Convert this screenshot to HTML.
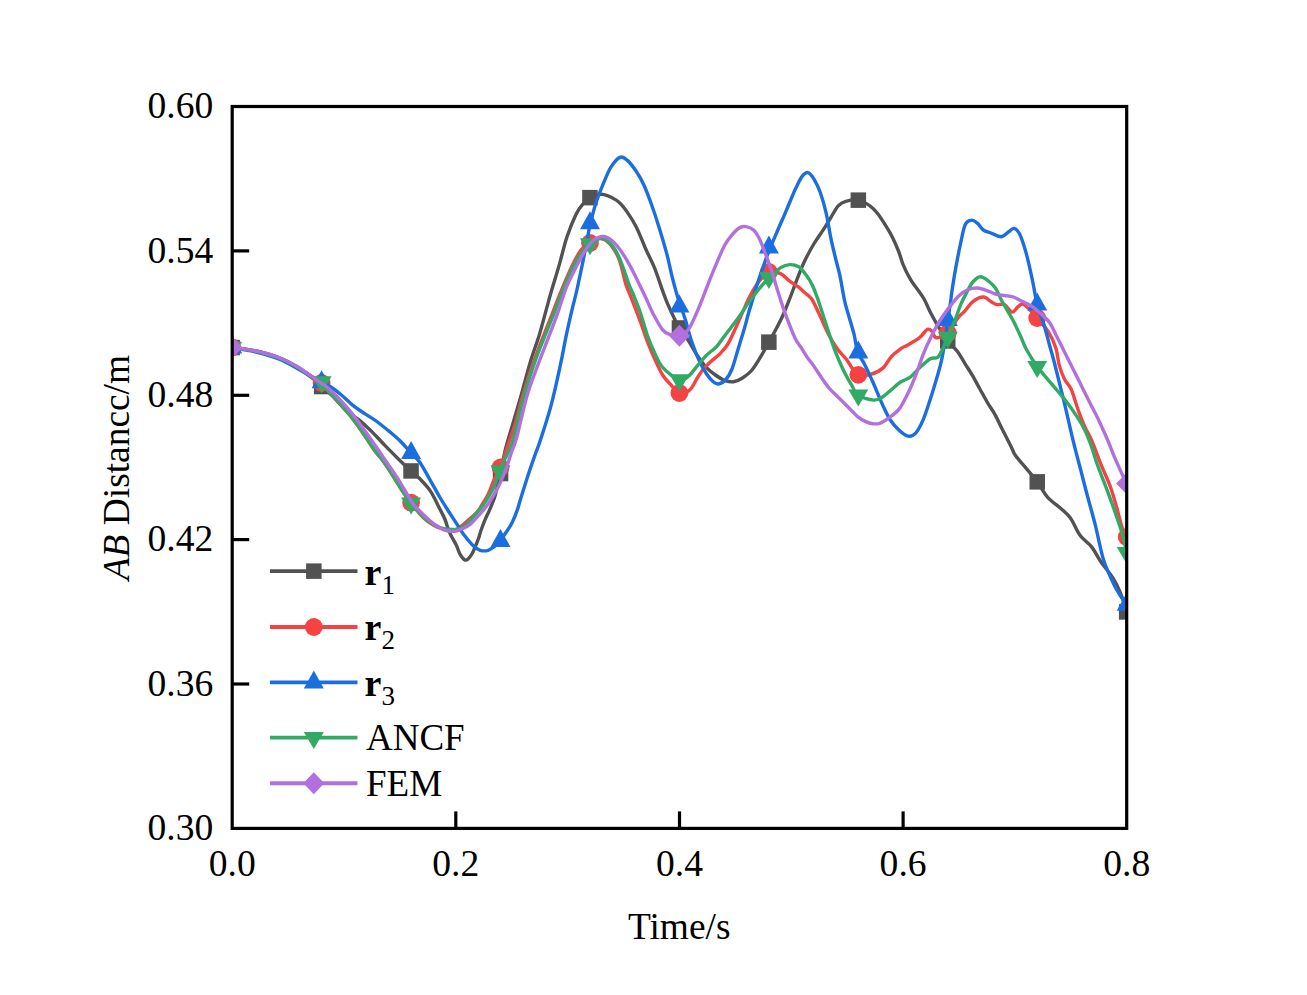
<!DOCTYPE html>
<html><head><meta charset="utf-8"><title>AB Distance vs Time</title>
<style>
html,body{margin:0;padding:0;background:#fff;}
body{width:1307px;height:995px;overflow:hidden;}
svg{display:block;}
text{font-family:"Liberation Serif",serif;fill:#000;}
</style></head><body>
<svg width="1307" height="995" viewBox="0 0 1307 995">
<rect x="0" y="0" width="1307" height="995" fill="#fff"/>
<defs><clipPath id="pa"><rect x="232.2" y="106.5" width="894.5" height="721.9"/></clipPath></defs>
<g clip-path="url(#pa)">
<path d="M232.2,347.5 C236.2,348.1 248.0,349.2 256.0,351.0 C264.0,352.8 273.0,355.2 280.0,358.0 C287.0,360.8 292.0,363.7 298.0,367.5 C304.0,371.3 312.1,377.8 316.0,381.0 C319.9,384.2 318.9,384.1 321.6,386.5 C324.3,388.9 327.8,391.4 332.0,395.5 C336.2,399.6 342.2,407.0 346.6,411.0 C351.1,415.0 354.7,416.4 358.7,419.6 C362.7,422.9 366.3,426.2 370.7,430.5 C375.1,434.8 379.7,440.1 385.1,445.6 C390.5,451.1 398.9,459.5 403.2,463.7 C407.5,467.9 408.3,468.5 411.1,471.0 C413.9,473.5 416.6,475.5 419.8,478.8 C423.0,482.1 426.9,485.8 430.3,490.9 C433.7,496.0 437.6,504.6 440.0,509.3 C442.4,514.0 443.2,515.1 444.8,519.0 C446.4,522.9 447.7,528.3 449.6,532.6 C451.5,536.9 454.4,541.1 456.1,544.7 C457.9,548.3 458.6,551.8 460.1,554.3 C461.6,556.8 463.5,559.2 464.9,559.9 C466.3,560.6 467.3,559.6 468.5,558.5 C469.7,557.4 471.0,555.6 472.2,553.5 C473.4,551.4 474.4,548.5 475.5,546.0 C476.6,543.5 477.6,541.0 478.6,538.2 C479.6,535.5 480.2,532.5 481.3,529.5 C482.4,526.5 483.6,523.2 484.9,520.1 C486.2,517.0 487.9,513.7 489.1,511.0 C490.3,508.3 491.1,506.4 492.1,503.8 C493.1,501.2 493.8,500.5 495.2,495.3 C496.6,490.1 498.7,480.5 500.5,472.5 C502.3,464.5 503.8,455.8 505.9,447.5 C508.0,439.2 510.6,431.7 513.1,423.0 C515.6,414.3 518.2,405.6 521.1,395.5 C524.0,385.4 527.2,372.4 530.2,362.4 C533.2,352.3 536.5,344.2 539.2,335.2 C542.0,326.1 544.7,315.4 546.7,308.1 C548.7,300.8 549.1,298.9 551.3,291.5 C553.4,284.1 557.0,272.8 559.6,263.6 C562.2,254.4 564.3,244.8 567.1,236.5 C569.9,228.2 573.6,219.3 576.2,213.9 C578.9,208.5 580.7,206.7 583.0,204.0 C585.3,201.3 587.1,199.3 590.0,197.7 C592.9,196.1 597.3,194.6 600.3,194.3 C603.3,194.0 604.8,194.6 607.8,195.8 C610.8,197.1 615.1,199.0 618.4,201.8 C621.7,204.6 624.4,208.1 627.4,212.4 C630.4,216.7 633.5,221.4 636.5,227.4 C639.5,233.4 642.5,241.7 645.5,248.5 C648.5,255.3 651.8,261.3 654.6,268.1 C657.4,274.9 660.0,283.6 662.1,289.3 C664.2,295.1 665.0,297.6 667.1,302.6 C669.2,307.6 672.7,315.0 674.7,319.2 C676.8,323.4 677.1,324.5 679.4,328.0 C681.6,331.5 685.2,335.7 688.2,340.3 C691.2,344.9 694.3,350.9 697.3,355.4 C700.3,359.9 703.3,364.1 706.3,367.4 C709.3,370.7 712.4,372.9 715.4,375.0 C718.4,377.1 721.4,379.2 724.4,380.3 C727.4,381.4 730.5,382.2 733.5,381.8 C736.5,381.4 739.5,379.9 742.5,378.0 C745.5,376.1 748.6,374.0 751.6,370.5 C754.6,367.0 757.7,361.6 760.6,356.9 C763.5,352.2 766.4,346.7 768.9,342.2 C771.4,337.7 773.3,334.4 775.7,329.8 C778.1,325.2 780.8,320.0 783.2,314.7 C785.6,309.4 787.6,304.1 790.0,298.0 C792.4,291.9 795.0,284.4 797.5,278.1 C800.0,271.8 802.3,265.9 805.1,260.1 C807.9,254.3 811.1,248.5 814.1,243.5 C817.1,238.5 820.4,234.2 823.2,229.9 C826.0,225.6 828.2,221.8 830.7,217.8 C833.2,213.8 835.7,208.6 838.2,205.8 C840.7,203.1 842.5,202.2 845.8,201.3 C849.1,200.4 853.8,199.4 857.8,200.2 C861.8,200.9 866.6,203.6 869.9,205.8 C873.2,208.0 874.6,209.8 877.4,213.3 C880.2,216.8 884.0,222.9 886.5,226.9 C889.0,230.9 890.5,233.4 892.5,237.4 C894.5,241.4 896.7,246.5 898.5,251.0 C900.3,255.5 901.1,259.8 903.1,264.6 C905.1,269.4 908.1,275.4 910.6,279.7 C913.1,284.0 915.8,286.9 918.1,290.2 C920.4,293.5 922.2,295.6 924.2,299.3 C926.2,303.0 928.0,307.7 930.2,312.1 C932.5,316.5 934.8,320.8 937.7,325.6 C940.6,330.4 944.5,336.7 947.8,341.0 C951.1,345.3 954.5,347.6 957.3,351.3 C960.1,355.0 962.3,359.3 964.8,363.3 C967.3,367.3 969.9,371.1 972.4,375.4 C974.9,379.7 977.4,384.5 979.9,389.0 C982.4,393.5 984.9,398.2 987.4,402.5 C989.9,406.8 992.5,410.1 995.0,414.6 C997.5,419.1 999.7,424.2 1002.5,429.7 C1005.3,435.2 1009.5,443.4 1011.6,447.7 C1013.7,452.0 1013.1,452.1 1015.3,455.3 C1017.5,458.5 1021.1,462.3 1024.8,466.7 C1028.5,471.1 1033.4,476.7 1037.2,481.8 C1041.0,486.9 1043.7,492.8 1047.7,497.3 C1051.7,501.8 1057.3,505.2 1061.1,508.7 C1064.9,512.2 1067.4,513.8 1070.6,518.3 C1073.8,522.8 1076.7,530.7 1080.2,535.5 C1083.7,540.3 1088.1,542.4 1091.6,546.9 C1095.1,551.4 1097.7,557.1 1101.2,562.2 C1104.7,567.3 1109.4,572.4 1112.6,577.5 C1115.8,582.6 1117.9,587.0 1120.3,592.7 C1122.7,598.5 1125.6,608.8 1126.7,612.0" fill="none" stroke="#525252" stroke-width="3.4" stroke-linejoin="round" stroke-linecap="round"/>
<rect x="224.4" y="339.8" width="15.5" height="15.5" fill="#525252"/>
<rect x="313.9" y="378.8" width="15.5" height="15.5" fill="#525252"/>
<rect x="403.3" y="463.2" width="15.5" height="15.5" fill="#525252"/>
<rect x="492.8" y="465.8" width="15.5" height="15.5" fill="#525252"/>
<rect x="582.2" y="189.9" width="15.5" height="15.5" fill="#525252"/>
<rect x="671.7" y="320.2" width="15.5" height="15.5" fill="#525252"/>
<rect x="761.1" y="334.4" width="15.5" height="15.5" fill="#525252"/>
<rect x="850.6" y="192.4" width="15.5" height="15.5" fill="#525252"/>
<rect x="940.0" y="333.2" width="15.5" height="15.5" fill="#525252"/>
<rect x="1029.5" y="474.1" width="15.5" height="15.5" fill="#525252"/>
<rect x="1118.9" y="604.2" width="15.5" height="15.5" fill="#525252"/>
<path d="M232.2,347.5 C236.2,348.1 248.0,349.2 256.0,351.0 C264.0,352.8 273.0,355.7 280.0,358.5 C287.0,361.3 292.0,364.4 298.0,368.0 C304.0,371.6 312.1,377.5 316.0,380.0 C319.9,382.5 319.9,381.6 321.6,383.0 C323.3,384.4 323.3,385.6 326.0,388.7 C328.7,391.8 334.0,396.8 338.0,401.3 C342.0,405.8 345.9,410.3 350.0,415.5 C354.1,420.7 358.4,426.7 362.5,432.5 C366.6,438.3 371.1,445.8 374.5,450.5 C377.9,455.2 379.9,456.8 383.0,461.0 C386.1,465.2 389.8,471.1 393.0,476.0 C396.2,480.9 399.0,486.0 402.0,490.5 C405.0,495.0 408.1,499.1 411.1,503.0 C414.1,506.9 417.2,510.9 420.0,514.0 C422.8,517.1 424.7,519.2 428.0,521.5 C431.3,523.8 435.6,526.6 440.0,528.0 C444.4,529.4 451.0,530.2 454.4,530.0 C457.8,529.8 458.3,528.1 460.1,527.0 C461.9,525.9 463.2,524.6 465.0,523.1 C466.8,521.6 469.0,519.5 471.0,517.7 C473.0,515.9 475.3,514.3 477.1,512.2 C478.9,510.1 480.3,507.5 481.9,505.0 C483.5,502.5 485.3,499.7 486.7,497.1 C488.1,494.5 489.1,492.2 490.3,489.3 C491.5,486.4 492.3,483.8 494.0,480.0 C495.7,476.2 498.8,470.5 500.5,466.5 C502.2,462.5 502.7,460.8 504.3,456.2 C505.9,451.6 508.0,445.0 510.0,439.0 C512.0,433.0 514.3,427.2 516.4,420.0 C518.5,412.8 520.0,405.1 522.8,395.5 C525.6,385.9 529.9,372.4 533.4,362.4 C536.9,352.3 540.6,343.5 543.8,335.2 C547.0,326.9 549.9,319.6 552.7,312.6 C555.5,305.6 557.2,300.7 560.4,293.0 C563.6,285.3 568.4,273.8 571.8,266.6 C575.2,259.4 577.9,253.9 581.0,250.0 C584.1,246.1 587.0,244.9 590.2,243.0 C593.4,241.1 597.0,238.3 600.3,238.5 C603.6,238.7 606.9,240.6 610.0,244.0 C613.1,247.4 616.3,252.3 619.0,259.1 C621.7,265.9 624.1,278.6 626.0,284.7 C627.9,290.8 628.2,290.0 630.5,296.0 C632.8,302.0 637.2,313.1 640.0,320.7 C642.8,328.3 645.0,335.3 647.5,341.8 C650.0,348.3 652.6,354.4 655.1,359.9 C657.6,365.4 660.1,371.0 662.6,375.0 C665.1,379.0 667.4,381.0 670.2,384.0 C673.0,387.0 676.1,392.0 679.4,393.0 C682.6,394.0 686.7,392.5 689.7,390.0 C692.7,387.5 695.0,381.5 697.3,378.0 C699.6,374.5 701.0,371.8 703.3,369.0 C705.6,366.2 708.1,363.9 710.9,361.4 C713.7,358.9 717.1,356.7 719.9,353.9 C722.6,351.1 725.1,348.3 727.4,344.8 C729.7,341.3 731.5,337.1 733.5,332.8 C735.5,328.5 737.5,323.7 739.5,319.2 C741.5,314.7 743.8,309.5 745.5,305.6 C747.2,301.7 747.9,299.8 750.0,296.0 C752.1,292.2 754.9,286.7 758.0,282.7 C761.1,278.7 765.1,273.5 768.9,272.0 C772.7,270.5 777.1,272.1 780.6,273.6 C784.1,275.1 786.7,278.9 789.7,281.2 C792.7,283.5 796.3,285.4 798.7,287.2 C801.1,289.0 801.8,290.0 804.0,292.0 C806.2,294.0 809.2,295.3 811.7,299.0 C814.2,302.7 816.5,308.3 819.2,314.1 C822.0,319.9 825.2,327.9 828.2,333.7 C831.2,339.5 834.3,344.5 837.3,348.8 C840.3,353.1 842.9,355.0 846.3,359.3 C849.7,363.6 853.8,372.3 857.8,374.8 C861.8,377.3 866.4,375.5 870.5,374.4 C874.6,373.3 879.0,371.4 882.5,368.4 C886.0,365.4 888.6,359.6 891.6,356.3 C894.6,353.0 898.0,350.7 900.6,348.8 C903.2,346.9 905.1,346.6 907.5,345.2 C909.9,343.8 912.8,342.2 915.1,340.7 C917.4,339.2 919.1,338.1 921.1,336.2 C923.1,334.3 925.3,330.3 927.1,329.4 C928.9,328.5 930.2,329.5 931.7,330.9 C933.2,332.3 933.5,337.3 936.2,337.7 C938.9,338.1 944.2,336.3 947.8,333.0 C951.4,329.7 954.8,321.8 957.7,318.1 C960.6,314.4 962.7,313.4 965.2,310.6 C967.7,307.9 969.8,303.9 972.8,301.6 C975.8,299.3 980.3,297.0 983.3,297.0 C986.3,297.0 988.6,300.3 990.9,301.6 C993.2,302.9 994.6,304.1 996.9,304.6 C999.1,305.1 1001.9,303.4 1004.4,304.6 C1006.9,305.9 1009.7,311.7 1012.0,312.1 C1014.3,312.5 1016.0,308.1 1018.0,306.8 C1020.0,305.6 1020.8,302.7 1024.0,304.6 C1027.2,306.5 1033.0,313.3 1037.2,318.0 C1041.4,322.7 1045.9,327.8 1049.0,332.9 C1052.1,337.9 1054.2,342.9 1055.9,348.3 C1057.6,353.7 1057.9,360.3 1059.3,365.4 C1060.7,370.5 1062.4,375.1 1064.4,379.1 C1066.4,383.1 1068.9,384.2 1071.2,389.3 C1073.5,394.4 1075.8,403.5 1078.1,409.8 C1080.4,416.1 1082.6,421.8 1084.9,426.9 C1087.2,432.0 1089.0,434.2 1091.7,440.5 C1094.4,446.8 1098.0,456.9 1101.2,464.8 C1104.4,472.7 1108.2,480.7 1110.7,487.7 C1113.2,494.7 1114.6,500.1 1116.5,506.8 C1118.4,513.5 1120.5,522.8 1122.2,527.8 C1123.9,532.8 1126.0,535.5 1126.7,537.0" fill="none" stroke="#F54242" stroke-width="3.4" stroke-linejoin="round" stroke-linecap="round"/>
<circle cx="232.2" cy="347.5" r="8.9" fill="#F54242"/>
<circle cx="321.6" cy="383.0" r="8.9" fill="#F54242"/>
<circle cx="411.1" cy="502.6" r="8.9" fill="#F54242"/>
<circle cx="500.5" cy="467.5" r="8.9" fill="#F54242"/>
<circle cx="590.0" cy="243.0" r="8.9" fill="#F54242"/>
<circle cx="679.4" cy="393.0" r="8.9" fill="#F54242"/>
<circle cx="768.9" cy="272.0" r="8.9" fill="#F54242"/>
<circle cx="858.3" cy="374.8" r="8.9" fill="#F54242"/>
<circle cx="947.8" cy="333.0" r="8.9" fill="#F54242"/>
<circle cx="1037.2" cy="318.0" r="8.9" fill="#F54242"/>
<circle cx="1126.7" cy="537.0" r="8.9" fill="#F54242"/>
<path d="M232.2,347.5 C236.2,348.2 248.0,350.0 256.0,352.0 C264.0,354.0 271.9,356.1 280.0,359.5 C288.1,362.9 297.5,368.8 304.4,372.6 C311.3,376.4 317.2,379.8 321.6,382.2 C326.0,384.6 327.7,385.0 330.9,387.0 C334.1,389.0 337.0,391.3 340.6,394.3 C344.2,397.3 348.6,401.9 352.6,405.1 C356.6,408.3 360.7,410.9 364.7,413.6 C368.7,416.3 372.6,418.4 376.8,421.5 C381.0,424.6 386.1,428.8 390.0,432.0 C393.9,435.2 396.7,437.5 400.2,441.0 C403.7,444.5 407.8,449.4 411.1,452.9 C414.4,456.4 416.6,457.6 419.8,462.2 C423.0,466.8 426.9,474.4 430.3,480.3 C433.7,486.2 436.9,492.2 440.0,497.5 C443.1,502.8 445.8,506.9 449.0,512.0 C452.2,517.0 456.8,524.0 459.3,527.8 C461.8,531.6 461.7,531.9 464.1,535.0 C466.5,538.1 471.1,543.8 473.8,546.3 C476.5,548.8 477.8,549.6 480.2,550.3 C482.6,551.0 485.8,551.0 488.2,550.3 C490.6,549.6 492.6,548.0 494.7,546.3 C496.8,544.6 498.4,542.7 500.5,540.0 C502.6,537.3 505.5,533.2 507.5,530.2 C509.5,527.2 510.7,525.6 512.3,522.2 C513.9,518.9 515.9,513.9 517.2,510.1 C518.6,506.3 518.7,505.1 520.4,499.6 C522.1,494.1 525.1,484.4 527.5,477.0 C529.9,469.6 532.8,461.3 535.0,455.0 C537.2,448.7 538.0,447.7 540.7,439.3 C543.4,430.9 548.0,416.9 551.3,404.6 C554.6,392.3 557.8,377.0 560.3,365.4 C562.8,353.8 564.3,344.8 566.3,335.2 C568.3,325.6 570.6,315.6 572.4,308.1 C574.2,300.6 575.3,297.2 576.9,290.0 C578.5,282.8 580.4,273.8 582.2,265.1 C584.0,256.4 586.2,244.6 587.5,238.0 C588.8,231.4 588.5,231.5 589.9,225.7 C591.3,219.9 593.6,210.3 595.8,203.3 C598.0,196.3 600.8,189.7 603.3,183.7 C605.8,177.7 608.1,171.5 610.9,167.1 C613.7,162.7 617.1,158.4 619.9,157.3 C622.6,156.2 624.6,158.0 627.4,160.4 C630.2,162.8 633.7,167.6 636.5,171.7 C639.3,175.8 641.5,179.7 644.0,185.2 C646.5,190.7 649.1,197.8 651.6,204.8 C654.1,211.8 656.6,219.4 659.1,227.4 C661.6,235.4 664.4,244.9 666.6,253.1 C668.8,261.3 670.5,270.1 672.1,276.6 C673.7,283.1 675.0,287.8 676.2,292.1 C677.4,296.4 677.9,298.0 679.4,302.5 C680.9,307.0 683.2,312.9 685.2,319.2 C687.2,325.5 689.0,333.5 691.3,340.3 C693.6,347.1 696.3,354.4 698.8,359.9 C701.3,365.4 704.0,370.0 706.3,373.5 C708.6,377.0 710.4,379.2 712.4,381.0 C714.4,382.8 716.1,384.2 718.4,384.0 C720.6,383.8 723.6,382.0 725.9,379.5 C728.2,377.0 730.0,374.0 732.0,369.0 C734.0,364.0 736.0,355.9 738.0,349.4 C740.0,342.9 742.2,335.8 744.0,329.8 C745.8,323.8 747.0,318.5 748.5,313.2 C750.0,307.9 751.6,303.1 753.1,298.1 C754.6,293.1 755.8,288.6 757.6,283.0 C759.4,277.4 762.1,269.9 764.0,264.6 C765.9,259.3 766.6,256.7 768.9,251.0 C771.2,245.3 774.9,236.8 777.6,230.5 C780.3,224.2 782.6,219.2 785.1,213.3 C787.6,207.4 790.9,199.5 792.7,195.2 C794.5,190.9 794.4,190.8 796.0,187.7 C797.6,184.6 800.1,178.9 802.1,176.4 C804.1,173.9 806.1,172.1 808.1,172.6 C810.1,173.1 812.1,176.1 814.1,179.4 C816.1,182.7 818.2,186.5 820.2,192.2 C822.2,197.8 824.5,205.8 826.2,213.3 C828.0,220.8 829.2,230.1 830.7,237.4 C832.2,244.7 833.7,250.7 835.2,257.0 C836.7,263.3 838.3,268.1 839.8,275.1 C841.3,282.2 843.0,293.1 844.3,299.3 C845.6,305.6 846.2,306.9 847.8,312.6 C849.4,318.3 852.2,327.1 853.9,333.7 C855.6,340.3 856.0,347.5 857.8,352.5 C859.5,357.5 861.8,358.7 864.4,363.9 C867.0,369.1 870.5,376.7 873.5,383.5 C876.5,390.3 879.7,398.6 882.5,404.6 C885.3,410.6 887.3,415.4 890.1,419.7 C892.9,424.0 896.1,427.4 899.1,430.2 C902.1,432.9 905.3,435.7 908.1,436.2 C910.9,436.7 913.2,435.9 915.7,433.2 C918.2,430.4 920.8,425.3 923.2,419.7 C925.6,414.1 928.0,406.1 930.2,399.5 C932.4,392.9 934.2,386.9 936.2,379.9 C938.2,372.9 940.3,367.3 942.2,357.3 C944.1,347.3 946.5,328.8 947.8,320.0 C949.1,311.2 949.4,309.9 950.2,304.6 C951.0,299.3 951.4,294.5 952.4,288.0 C953.4,281.5 954.8,272.9 956.2,265.4 C957.6,257.9 959.2,249.6 960.7,242.8 C962.2,236.0 963.4,228.5 965.2,224.7 C967.0,220.9 969.3,220.4 971.3,220.2 C973.3,219.9 975.3,221.6 977.3,223.2 C979.3,224.8 981.0,228.4 983.3,230.0 C985.6,231.6 987.9,231.9 990.9,233.0 C993.9,234.1 998.4,236.9 1001.4,236.7 C1004.4,236.4 1006.9,232.9 1009.0,231.5 C1011.1,230.1 1012.5,228.0 1014.2,228.4 C1016.0,228.8 1017.9,230.8 1019.5,233.7 C1021.1,236.6 1022.5,241.0 1024.0,245.8 C1025.5,250.6 1027.0,256.1 1028.5,262.4 C1030.0,268.7 1031.6,276.5 1033.1,283.5 C1034.5,290.5 1035.4,297.7 1037.2,304.5 C1039.0,311.3 1041.9,317.9 1043.9,324.4 C1045.9,330.8 1047.3,336.9 1049.0,343.2 C1050.7,349.5 1052.5,355.4 1054.2,362.0 C1055.9,368.6 1057.6,375.7 1059.3,382.5 C1061.0,389.3 1062.7,395.9 1064.4,403.0 C1066.1,410.1 1067.8,417.9 1069.5,425.2 C1071.2,432.5 1072.9,439.9 1074.7,447.0 C1076.5,454.1 1078.0,459.6 1080.2,468.0 C1082.4,476.4 1085.2,487.7 1087.8,497.3 C1090.3,506.9 1093.0,515.7 1095.5,525.9 C1098.0,536.1 1100.6,549.8 1103.1,558.4 C1105.6,567.0 1108.2,571.8 1110.7,577.5 C1113.2,583.2 1115.7,588.2 1118.4,592.7 C1121.1,597.2 1125.3,602.8 1126.7,604.8" fill="none" stroke="#1B6EE0" stroke-width="3.4" stroke-linejoin="round" stroke-linecap="round"/>
<polygon points="232.2,335.5 222.2,353.5 242.2,353.5" fill="#1B6EE0"/>
<polygon points="321.6,370.2 311.6,388.2 331.6,388.2" fill="#1B6EE0"/>
<polygon points="411.1,440.9 401.1,458.9 421.1,458.9" fill="#1B6EE0"/>
<polygon points="500.5,529.0 490.5,547.0 510.5,547.0" fill="#1B6EE0"/>
<polygon points="590.0,211.2 580.0,229.2 600.0,229.2" fill="#1B6EE0"/>
<polygon points="679.4,294.6 669.4,312.6 689.4,312.6" fill="#1B6EE0"/>
<polygon points="768.9,235.5 758.9,253.5 778.9,253.5" fill="#1B6EE0"/>
<polygon points="858.3,340.5 848.3,358.5 868.3,358.5" fill="#1B6EE0"/>
<polygon points="947.8,308.0 937.8,326.0 957.8,326.0" fill="#1B6EE0"/>
<polygon points="1037.2,292.5 1027.2,310.5 1047.2,310.5" fill="#1B6EE0"/>
<polygon points="1126.7,592.8 1116.7,610.8 1136.7,610.8" fill="#1B6EE0"/>
<path d="M232.2,347.5 C236.2,348.1 248.0,349.2 256.0,351.0 C264.0,352.8 273.0,355.6 280.0,358.3 C287.0,361.1 292.0,364.0 298.0,367.5 C304.0,371.0 312.1,377.1 316.0,379.5 C319.9,381.9 319.9,380.5 321.6,382.0 C323.3,383.5 323.3,385.3 326.0,388.5 C328.7,391.7 334.0,396.6 338.0,401.0 C342.0,405.4 345.9,409.8 350.0,415.0 C354.1,420.2 358.4,426.2 362.5,432.0 C366.6,437.8 371.1,445.2 374.5,450.0 C377.9,454.8 379.9,456.2 383.0,460.5 C386.1,464.8 389.8,470.6 393.0,475.5 C396.2,480.4 399.0,485.4 402.0,490.0 C405.0,494.6 408.1,499.3 411.1,503.2 C414.1,507.1 417.2,510.5 420.0,513.5 C422.8,516.5 424.7,518.7 428.0,521.0 C431.3,523.3 436.1,526.1 440.0,527.5 C443.9,528.9 448.1,529.3 451.4,529.5 C454.7,529.7 457.4,529.4 460.0,528.5 C462.6,527.6 464.5,526.4 466.8,524.3 C469.1,522.2 471.8,518.4 474.0,515.9 C476.2,513.4 478.3,511.4 480.1,509.2 C481.9,507.0 483.4,504.8 484.9,502.6 C486.4,500.4 487.8,498.1 489.1,495.9 C490.4,493.7 491.7,491.6 492.8,489.3 C493.9,487.0 494.8,484.7 495.8,482.1 C496.8,479.5 497.6,476.8 498.8,473.6 C500.0,470.4 501.4,466.6 503.0,463.0 C504.6,459.4 506.5,456.4 508.3,452.2 C510.1,448.0 511.0,447.1 513.6,437.7 C516.2,428.2 520.6,408.1 524.1,395.5 C527.6,382.9 531.2,372.4 534.7,362.4 C538.2,352.3 541.9,343.5 545.2,335.2 C548.5,326.9 551.5,319.6 554.3,312.6 C557.1,305.6 558.6,300.7 561.8,293.0 C564.9,285.3 569.8,273.4 573.2,266.6 C576.6,259.8 579.2,255.8 582.0,252.0 C584.8,248.2 587.0,246.3 590.0,244.0 C593.0,241.7 596.8,238.0 600.3,238.0 C603.8,238.0 607.6,240.5 610.9,244.0 C614.2,247.5 616.9,252.3 619.9,259.1 C622.9,265.9 626.9,279.1 629.0,284.7 C631.1,290.3 630.9,288.5 632.7,293.0 C634.5,297.5 637.5,304.6 640.0,311.7 C642.5,318.8 645.0,328.8 647.5,335.8 C650.0,342.8 652.6,348.6 655.1,353.9 C657.6,359.2 658.6,363.0 662.6,367.4 C666.6,371.8 675.1,378.5 679.4,380.0 C683.7,381.5 685.2,378.9 688.2,376.5 C691.2,374.1 694.3,369.4 697.3,365.9 C700.3,362.4 703.3,358.4 706.3,355.4 C709.3,352.4 712.9,350.3 715.4,347.8 C717.9,345.3 718.9,343.6 721.4,340.3 C723.9,337.0 727.5,332.2 730.5,328.2 C733.5,324.2 736.5,320.5 739.5,316.2 C742.5,311.9 745.5,306.9 748.5,302.6 C751.5,298.3 754.2,294.8 757.6,290.6 C761.0,286.5 766.1,280.5 768.9,277.7 C771.7,274.9 772.6,275.3 774.6,273.6 C776.6,271.9 778.1,269.1 780.6,267.6 C783.1,266.1 786.7,264.7 789.7,264.6 C792.7,264.5 796.0,265.1 798.7,266.8 C801.5,268.6 803.9,272.0 806.2,275.1 C808.5,278.2 810.7,281.7 812.6,285.7 C814.5,289.7 815.5,292.6 817.9,299.3 C820.2,306.1 824.0,317.9 826.7,326.2 C829.4,334.4 831.5,341.5 834.3,348.8 C837.1,356.1 840.3,363.6 843.3,369.9 C846.3,376.2 850.0,382.3 852.4,386.5 C854.8,390.7 854.3,393.0 857.8,395.3 C861.3,397.6 869.4,399.8 873.5,400.1 C877.6,400.4 879.5,398.8 882.5,397.0 C885.5,395.2 888.6,392.0 891.6,389.5 C894.6,387.0 897.4,384.1 900.6,382.0 C903.8,379.9 907.4,379.3 910.6,376.9 C913.8,374.5 916.3,370.8 919.6,367.8 C922.9,364.8 927.2,360.6 930.2,358.8 C933.2,357.1 935.7,358.8 937.7,357.3 C939.7,355.8 940.5,353.1 942.2,349.8 C943.9,346.5 945.5,342.8 947.8,337.5 C950.1,332.2 953.6,323.6 955.8,318.1 C957.9,312.6 958.9,308.9 960.7,304.6 C962.5,300.3 964.7,296.3 966.7,292.5 C968.7,288.7 970.5,284.6 972.8,282.0 C975.1,279.4 977.8,276.9 980.3,276.7 C982.8,276.4 985.3,278.6 987.8,280.5 C990.3,282.4 993.1,284.7 995.4,288.0 C997.7,291.3 999.4,296.3 1001.4,300.1 C1003.4,303.9 1005.4,307.1 1007.4,310.6 C1009.4,314.1 1011.3,316.9 1013.5,321.2 C1015.7,325.5 1018.4,331.4 1020.6,336.2 C1022.8,341.0 1023.8,344.7 1026.6,349.8 C1029.4,354.9 1033.5,361.4 1037.2,366.6 C1040.9,371.8 1045.6,376.7 1049.0,380.8 C1052.4,384.9 1054.8,387.6 1057.6,391.0 C1060.4,394.4 1063.2,397.6 1066.1,401.3 C1068.9,405.0 1071.8,408.9 1074.7,413.2 C1077.6,417.5 1080.7,422.0 1083.2,426.9 C1085.8,431.8 1087.6,436.0 1090.0,442.3 C1092.4,448.6 1094.6,456.9 1097.4,464.8 C1100.2,472.7 1104.1,482.0 1106.9,489.6 C1109.8,497.2 1112.0,503.3 1114.5,510.6 C1117.0,517.9 1120.2,526.5 1122.2,533.5 C1124.2,540.5 1126.0,549.5 1126.7,552.7" fill="none" stroke="#30AA64" stroke-width="3.4" stroke-linejoin="round" stroke-linecap="round"/>
<polygon points="232.2,358.8 222.2,341.8 242.2,341.8" fill="#30AA64"/>
<polygon points="321.6,393.3 311.6,376.3 331.6,376.3" fill="#30AA64"/>
<polygon points="411.1,514.5 401.1,497.5 421.1,497.5" fill="#30AA64"/>
<polygon points="500.5,482.3 490.5,465.3 510.5,465.3" fill="#30AA64"/>
<polygon points="590.0,255.3 580.0,238.3 600.0,238.3" fill="#30AA64"/>
<polygon points="679.4,391.3 669.4,374.3 689.4,374.3" fill="#30AA64"/>
<polygon points="768.9,289.0 758.9,272.0 778.9,272.0" fill="#30AA64"/>
<polygon points="858.3,406.6 848.3,389.6 868.3,389.6" fill="#30AA64"/>
<polygon points="947.8,348.8 937.8,331.8 957.8,331.8" fill="#30AA64"/>
<polygon points="1037.2,377.9 1027.2,360.9 1047.2,360.9" fill="#30AA64"/>
<polygon points="1126.7,564.0 1116.7,547.0 1136.7,547.0" fill="#30AA64"/>
<path d="M232.2,347.5 C236.2,348.1 248.0,349.2 256.0,351.0 C264.0,352.8 273.0,355.3 280.0,358.0 C287.0,360.7 292.0,363.4 298.0,367.0 C304.0,370.6 310.9,375.9 316.0,379.5 C321.1,383.1 324.4,384.8 328.5,388.3 C332.6,391.8 336.6,396.0 340.6,400.3 C344.6,404.6 348.5,408.9 352.6,414.0 C356.7,419.1 360.9,425.3 365.0,431.0 C369.1,436.7 373.6,443.2 377.0,448.0 C380.4,452.8 382.0,455.5 385.1,460.0 C388.2,464.5 392.9,471.2 395.4,475.0 C397.9,478.8 397.7,478.3 400.2,482.5 C402.7,486.7 408.0,496.0 410.5,500.0 C413.0,504.0 411.9,503.0 415.2,506.5 C418.5,510.0 426.2,517.4 430.3,521.0 C434.4,524.6 437.1,526.3 440.0,528.0 C442.9,529.7 445.3,530.5 448.0,531.0 C450.7,531.5 453.4,531.5 456.1,531.0 C458.8,530.5 461.8,529.1 464.1,528.0 C466.4,526.9 467.8,526.3 470.0,524.5 C472.2,522.7 474.9,519.4 477.1,517.1 C479.3,514.8 481.1,512.9 483.1,510.5 C485.1,508.1 487.2,505.2 489.1,502.5 C491.0,499.8 492.8,496.6 494.3,494.0 C495.8,491.4 496.9,489.7 498.2,487.0 C499.5,484.3 500.9,481.3 502.4,477.8 C503.9,474.3 505.5,470.3 507.0,466.0 C508.5,461.7 509.9,456.9 511.5,452.2 C513.1,447.5 514.0,447.1 516.6,437.7 C519.2,428.2 523.6,407.6 527.1,395.5 C530.6,383.4 534.2,374.9 537.7,365.4 C541.2,355.8 544.9,346.8 548.2,338.2 C551.5,329.6 554.4,322.2 557.3,314.1 C560.2,306.0 562.7,296.7 565.6,289.3 C568.5,281.9 571.7,275.7 574.7,269.7 C577.7,263.7 580.7,257.9 583.7,253.1 C586.7,248.3 589.5,243.8 592.8,241.0 C596.1,238.2 600.0,236.5 603.3,236.5 C606.6,236.5 609.4,238.5 612.4,241.0 C615.4,243.5 618.4,247.3 621.4,251.6 C624.4,255.9 627.5,261.1 630.5,266.6 C633.5,272.1 636.9,279.4 639.5,284.7 C642.1,290.0 643.6,293.3 646.0,298.3 C648.4,303.3 650.8,309.4 653.6,314.7 C656.4,319.9 659.9,326.5 662.6,329.8 C665.3,333.1 667.2,333.5 670.0,334.5 C672.8,335.5 676.4,336.6 679.4,335.8 C682.4,335.0 685.5,333.3 688.2,329.8 C690.9,326.3 693.5,319.8 695.8,314.7 C698.1,309.6 699.9,305.1 702.2,299.3 C704.5,293.5 707.3,286.0 709.8,279.7 C712.3,273.4 714.8,267.4 717.3,261.6 C719.8,255.8 722.3,249.5 724.8,245.0 C727.3,240.5 729.9,237.3 732.4,234.4 C734.9,231.5 737.6,228.9 739.9,227.6 C742.1,226.3 743.6,226.2 745.9,226.6 C748.2,227.0 751.2,227.8 753.5,229.9 C755.8,232.0 757.5,234.9 759.5,238.9 C761.5,242.9 763.5,248.7 765.5,254.0 C767.5,259.3 769.8,265.3 771.6,270.6 C773.4,275.9 774.6,280.8 776.1,285.7 C777.6,290.6 779.0,295.0 780.6,300.0 C782.2,305.0 783.6,309.2 786.0,315.6 C788.4,322.0 792.6,332.9 795.1,338.2 C797.6,343.5 798.9,344.0 800.9,347.2 C802.9,350.4 804.9,353.9 807.2,357.2 C809.5,360.5 812.1,363.6 814.5,367.1 C816.9,370.6 819.3,374.5 821.7,378.0 C824.1,381.5 826.6,385.1 829.0,388.0 C831.4,390.9 833.8,392.8 836.2,395.2 C838.6,397.6 841.0,400.0 843.4,402.4 C845.8,404.8 848.3,407.3 850.7,409.7 C853.1,412.1 855.5,414.9 857.9,416.9 C860.3,418.8 862.8,420.3 865.2,421.4 C867.6,422.5 870.0,423.4 872.4,423.7 C874.8,424.0 876.9,424.2 879.6,423.3 C882.3,422.4 885.2,420.5 888.5,418.1 C891.8,415.7 895.8,413.3 899.1,409.1 C902.4,404.9 905.3,398.6 908.1,393.0 C910.9,387.4 913.2,381.8 915.7,375.4 C918.2,368.9 920.8,360.4 923.2,354.3 C925.6,348.2 927.6,344.0 930.3,338.5 C933.0,333.0 936.3,326.6 939.6,321.2 C942.9,315.8 946.9,310.4 950.2,306.1 C953.5,301.8 956.2,298.3 959.2,295.5 C962.2,292.7 965.2,290.8 968.2,289.5 C971.2,288.2 974.3,287.9 977.3,288.0 C980.3,288.1 983.3,289.3 986.3,290.3 C989.3,291.3 992.4,293.1 995.4,294.0 C998.4,294.9 1001.4,295.0 1004.4,295.5 C1007.4,296.0 1010.5,296.0 1013.5,297.0 C1016.5,298.0 1019.5,300.1 1022.5,301.6 C1025.5,303.1 1028.6,304.1 1031.6,306.1 C1034.6,308.1 1037.6,310.8 1040.6,313.6 C1043.6,316.4 1047.2,319.2 1049.7,322.7 C1052.2,326.2 1053.5,329.9 1055.9,334.7 C1058.4,339.5 1061.6,346.0 1064.4,351.7 C1067.2,357.4 1070.1,363.1 1072.9,368.8 C1075.8,374.5 1078.7,380.2 1081.5,385.9 C1084.3,391.6 1087.2,397.3 1090.0,403.0 C1092.8,408.7 1095.8,414.0 1098.6,420.0 C1101.4,426.0 1104.4,432.6 1107.1,438.8 C1109.8,445.0 1112.0,451.3 1114.5,457.2 C1117.0,463.1 1120.2,470.0 1122.2,474.4 C1124.2,478.8 1126.0,482.0 1126.7,483.5" fill="none" stroke="#B270DE" stroke-width="3.4" stroke-linejoin="round" stroke-linecap="round"/>
<polygon points="232.2,336.5 242.7,347.5 232.2,358.5 221.7,347.5" fill="#B270DE"/>
<polygon points="679.4,324.8 689.9,335.8 679.4,346.8 668.9,335.8" fill="#B270DE"/>
<polygon points="1126.7,472.5 1137.2,483.5 1126.7,494.5 1116.2,483.5" fill="#B270DE"/>
</g>
<rect x="232.2" y="106.5" width="894.5" height="721.9" fill="none" stroke="#000" stroke-width="3.2"/>
<line x1="232.2" y1="250.9" x2="249.2" y2="250.9" stroke="#000" stroke-width="3.2"/>
<line x1="232.2" y1="395.3" x2="249.2" y2="395.3" stroke="#000" stroke-width="3.2"/>
<line x1="232.2" y1="539.6" x2="249.2" y2="539.6" stroke="#000" stroke-width="3.2"/>
<line x1="232.2" y1="684.0" x2="249.2" y2="684.0" stroke="#000" stroke-width="3.2"/>
<line x1="455.8" y1="828.4" x2="455.8" y2="811.4" stroke="#000" stroke-width="3.2"/>
<line x1="679.5" y1="828.4" x2="679.5" y2="811.4" stroke="#000" stroke-width="3.2"/>
<line x1="903.1" y1="828.4" x2="903.1" y2="811.4" stroke="#000" stroke-width="3.2"/>
<text x="213.3" y="118.1" font-size="37.6" text-anchor="end">0.60</text>
<text x="213.3" y="262.5" font-size="37.6" text-anchor="end">0.54</text>
<text x="213.3" y="406.9" font-size="37.6" text-anchor="end">0.48</text>
<text x="213.3" y="551.2" font-size="37.6" text-anchor="end">0.42</text>
<text x="213.3" y="695.6" font-size="37.6" text-anchor="end">0.36</text>
<text x="213.3" y="840.0" font-size="37.6" text-anchor="end">0.30</text>
<text x="232.2" y="876.3" font-size="37.6" text-anchor="middle">0.0</text>
<text x="455.8" y="876.3" font-size="37.6" text-anchor="middle">0.2</text>
<text x="679.5" y="876.3" font-size="37.6" text-anchor="middle">0.4</text>
<text x="903.1" y="876.3" font-size="37.6" text-anchor="middle">0.6</text>
<text x="1126.7" y="876.3" font-size="37.6" text-anchor="middle">0.8</text>
<text x="679.2" y="939.0" font-size="37.4" text-anchor="middle">Time/s</text>
<text transform="translate(129.3,467.6) rotate(-90)" font-size="37.4" text-anchor="middle"><tspan font-style="italic">AB</tspan> Distancc/m</text>
<line x1="270.0" y1="571.1" x2="357.5" y2="571.1" stroke="#525252" stroke-width="3.9"/>
<rect x="306.1" y="563.4" width="15.5" height="15.5" fill="#525252"/>
<text x="364.5" y="584.6" font-size="38" font-weight="bold">r</text><text x="381.5" y="593.9" font-size="27">1</text>
<line x1="270.0" y1="627.0" x2="357.5" y2="627.0" stroke="#F54242" stroke-width="3.9"/>
<circle cx="313.8" cy="627.0" r="8.9" fill="#F54242"/>
<text x="364.5" y="640.0" font-size="38" font-weight="bold">r</text><text x="381.5" y="649.3" font-size="27">2</text>
<line x1="270.0" y1="682.4" x2="357.5" y2="682.4" stroke="#1B6EE0" stroke-width="3.9"/>
<polygon points="313.8,670.4 303.8,688.4 323.8,688.4" fill="#1B6EE0"/>
<text x="364.5" y="695.6" font-size="38" font-weight="bold">r</text><text x="381.5" y="704.9" font-size="27">3</text>
<line x1="270.0" y1="737.6" x2="357.5" y2="737.6" stroke="#30AA64" stroke-width="3.9"/>
<polygon points="313.8,748.9 303.8,731.9 323.8,731.9" fill="#30AA64"/>
<text x="366.0" y="749.7" font-size="37">ANCF</text>
<line x1="270.0" y1="783.3" x2="357.5" y2="783.3" stroke="#B270DE" stroke-width="3.9"/>
<polygon points="313.8,772.3 324.3,783.3 313.8,794.3 303.3,783.3" fill="#B270DE"/>
<text x="366.0" y="796.0" font-size="37">FEM</text>
</svg>
</body></html>
